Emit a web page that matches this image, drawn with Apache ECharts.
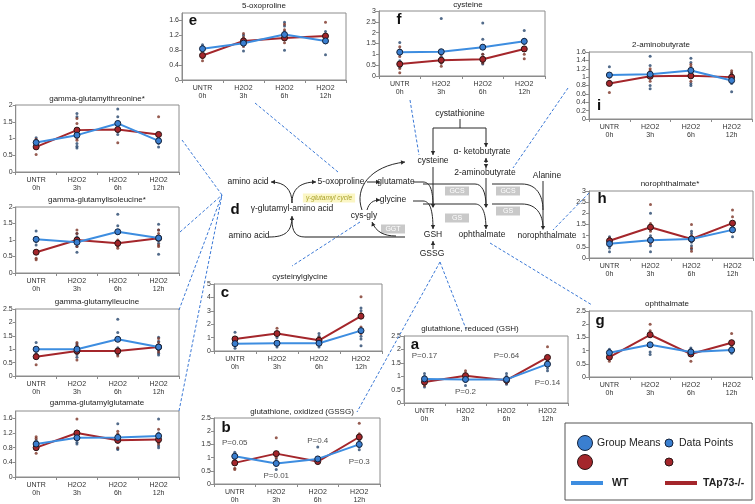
<!DOCTYPE html>
<html><head><meta charset="utf-8">
<script src="https://cdn.jsdelivr.net/npm/echarts@6/dist/echarts.min.js"></script>
<style>html,body{margin:0;padding:0;background:#fff}#c{width:755px;height:504px}</style>
</head><body><div id="c"></div>
<script>
const categories = ['UNTR\n0h','H2O2\n3h','H2O2\n6h','H2O2\n12h'];

const thrWT = [0.88,1.1,1.45,0.93], thrKO = [0.75,1.25,1.27,1.12];
const thrWTPts = [[1.02,0.95,0.9,0.85,0.8],[1.75,1.65,1.25,1.1,0.85,0.77,0.72],[1.88,1.65,1.45,1.35,1.2,1.12],[1.12,1.05,0.95,0.85,0.75]];
const thrKOPts = [[0.98,0.75,0.72,0.52],[1.6,1.45,1.28,1.0,0.95],[1.3,1.25,0.87],[1.65,1.1,1.05,0.95]];

const ileWT = [1.02,0.93,1.25,1.06], ileKO = [0.63,1.0,0.9,1.05];
const ileWTPts = [[1.27,1.0,0.95,0.85],[1.2,1.1,0.8,0.63],[1.78,1.43,1.2,0.95,0.85],[1.48,1.3,1.0,0.9,0.57]];
const ileKOPts = [[0.65,0.45,0.4],[1.3,1.2,0.9,0.8],[1.0,0.85,0.8,0.75],[1.3,1.2,0.85,0.8]];

const leuWT = [1.0,1.0,1.37,1.08], leuKO = [0.72,0.93,0.93,1.08];
const leuWTPts = [[1.25,1.0,0.85,0.75],[1.2,1.1,0.8,0.7],[2.12,1.62,1.05,0.95,0.85,0.8],[1.45,1.3,1.15,0.95,0.85,0.78]];
const leuKOPts = [[0.8,0.7,0.42],[1.25,1.15,0.85,0.6],[1.0,0.9,0.85,0.75],[1.4,1.25,1.0,0.9]];

const gluWT = [0.9,1.07,1.08,1.12], gluKO = [0.8,1.2,1.0,1.02];
const gluWTPts = [[1.0,0.95,0.9,0.85,0.75],[1.15,1.05,0.95,0.9],[1.45,1.15,1.05,0.95,0.78,0.75],[1.58,1.2,1.1,0.95,0.85,0.8]];
const gluKOPts = [[1.1,1.05,0.8,0.65],[1.58,1.25,1.2,1.1],[1.25,1.18,1.0,0.8],[1.3,1.05,0.95,0.9]];

const oxoWT = [0.84,0.99,1.22,1.05], oxoKO = [0.66,1.05,1.13,1.18];
const oxoWTPts = [[0.95,0.9,0.85,0.8],[1.2,1.1,1.0,0.78],[1.55,1.45,1.3,1.2,1.1,0.8],[1.3,1.2,1.1,1.0,0.68]];
const oxoKOPts = [[0.7,0.6,0.52],[1.25,1.15,1.05,0.9],[1.5,1.35,1.2,1.1,1.0],[1.55,1.2,1.1]];

const cysWT = [1.1,1.12,1.33,1.6], cysKO = [0.55,0.73,0.77,1.25];
const cysWTPts = [[1.55,1.2,1.1,1.0,0.7,0.4],[2.65,1.1,0.9,0.7,0.6],[2.45,1.7,1.0,0.75,0.6,0.55],[2.1,1.7,1.5,1.2]];
const cysKOPts = [[1.35,1.2,0.9,0.55,0.35,0.15],[1.0,0.75,0.6,0.45],[1.4,1.0,0.8,0.6],[1.6,1.3,1.0,0.8]];

const abuWT = [1.05,1.07,1.16,0.92], abuKO = [0.85,1.02,1.03,1.0];
const abuWTPts = [[1.25,1.05,0.9],[1.5,1.28,1.1,1.0,0.8,0.72],[1.45,1.35,1.2,1.05,0.85,0.8],[1.1,1.0,0.9,0.85,0.65]];
const abuKOPts = [[1.0,0.85,0.63],[1.2,1.15,1.1,1.0,0.9],[1.3,1.25,1.1,1.0,0.9],[1.15,1.1,1.05,0.95]];

const noroWT = [0.64,0.8,0.85,1.26], noroKO = [0.77,1.38,0.85,1.56];
const noroWTPts = [[0.95,0.9,0.8,0.55,0.45,0.28],[2.0,1.3,1.0,0.75,0.55,0.28],[1.2,1.1,0.9,0.7,0.55,0.4],[1.6,1.45,1.3,1.2,0.95]];
const noroKOPts = [[0.9,0.75,0.6],[2.4,1.55,1.45,1.2,0.85,0.65],[1.5,1.0,0.8,0.45,0.3],[2.15,1.85,1.6,1.45]];

const ophWT = [0.92,1.22,0.95,1.02], ophKO = [0.75,1.6,0.87,1.3];
const ophWTPts = [[1.05,1.0,0.95,0.85],[1.25,0.95,0.85],[1.1,1.05,0.95,0.9],[1.1,1.0,0.9]];
const ophKOPts = [[0.9,0.7,0.6],[2.0,1.75,1.65,1.55],[1.0,0.85,0.6],[1.65,1.35,1.25,1.15]];

const cgWT = [0.55,0.58,0.58,1.52], cgKO = [0.9,1.3,0.8,2.6];
const cgWTPts = [[1.4,0.8,0.5,0.2],[1.2,1.0,0.6,0.3],[1.3,1.1,0.8,0.6,0.3],[3.2,3.0,2.5,1.1,0.9,0.4]];
const cgKOPts = [[0.9,0.7],[1.7,1.4,1.2],[1.0,0.9,0.7],[4.05,2.8,2.65,1.8,1.5,1.3]];

const gssgWT = [1.05,0.78,0.95,1.5], gssgKO = [0.8,1.15,0.85,1.78];
const gssgWTPts = [[1.2,1.1,1.0,0.9,0.8],[0.95,0.85,0.7,0.55],[1.4,1.0,0.9,0.8],[1.65,1.55,1.4,1.3]];
const gssgKOPts = [[0.9,0.6,0.55],[1.75,1.2,1.1,1.0],[1.0,0.9,0.8],[2.3,1.9,1.8,1.7]];
const gssgPLabels = ['P=0.05','P=0.01','P=0.4','P=0.3'];
const gssgPPos = [1.55,0.3,1.65,0.85];

const gshWT = [0.9,0.88,0.88,1.45], gshKO = [0.78,1.02,0.85,1.7];
const gshWTPts = [[1.1,1.0,0.9,0.75,0.6],[1.05,0.9,0.8,0.65],[1.1,1.0,0.85,0.75,0.7],[1.7,1.5,1.3,1.2]];
const gshKOPts = [[0.9,0.75,0.65],[1.2,1.1,1.0,0.9],[0.95,0.85,0.75],[2.1,1.75,1.6,1.55]];
const gshPLabels = ['P=0.17','P=0.2','P=0.64','P=0.14'];
const gshPPos = [1.75,0.4,1.75,0.75];

const FONT = 'Liberation Sans, Arial, sans-serif';
const BLUE = '#3d8de0', RED = '#a4262b', BLUE_PT = '#27466d', RED_PT = '#7c3326';

const panels = [
  {title:'gamma-glutamylthreonine*', wt:thrWT, ko:thrKO, wp:thrWTPts, kp:thrKOPts, max:2, step:0.5, g:[15,105,164,67], t:[97,99]},
  {title:'gamma-glutamylisoleucine*', wt:ileWT, ko:ileKO, wp:ileWTPts, kp:ileKOPts, max:2, step:0.5, g:[15,207,164,66], t:[97,200]},
  {title:'gamma-glutamylleucine', wt:leuWT, ko:leuKO, wp:leuWTPts, kp:leuKOPts, max:2.5, step:0.5, g:[15,309,164,67], t:[97,302]},
  {title:'gamma-glutamylglutamate', wt:gluWT, ko:gluKO, wp:gluWTPts, kp:gluKOPts, max:1.8, step:0.4, hideMax:true, g:[15,411,164,66], t:[97,403]},
  {title:'5-oxoproline', letter:'e', wt:oxoWT, ko:oxoKO, wp:oxoWTPts, kp:oxoKOPts, max:1.8, step:0.4, hideMax:true, g:[182,13,164,67], t:[264,6], l:[193,21]},
  {title:'cysteine', letter:'f', wt:cysWT, ko:cysKO, wp:cysWTPts, kp:cysKOPts, max:3, step:0.5, g:[379,11,166,65], t:[468,5], l:[399,20]},
  {title:'2-aminobutyrate', letter:'i', wt:abuWT, ko:abuKO, wp:abuWTPts, kp:abuKOPts, max:1.6, step:0.2, g:[589,52,163,67], t:[661,45], l:[599,106]},
  {title:'norophthalmate*', letter:'h', wt:noroWT, ko:noroKO, wp:noroWTPts, kp:noroKOPts, max:3, step:0.5, g:[589,191,164,67], t:[670,184], l:[602,199]},
  {title:'ophthalmate', letter:'g', wt:ophWT, ko:ophKO, wp:ophWTPts, kp:ophKOPts, max:2.5, step:0.5, g:[589,311,163,66], t:[667,304], l:[600,321]},
  {title:'cysteinylglycine', letter:'c', wt:cgWT, ko:cgKO, wp:cgWTPts, kp:cgKOPts, max:5, step:1, g:[214,284,168,67], t:[300,277], l:[225,293]},
  {title:'glutathione, oxidized (GSSG)', letter:'b', wt:gssgWT, ko:gssgKO, wp:gssgWTPts, kp:gssgKOPts, max:2.5, step:0.5, g:[214,418,166,67], t:[302,412], l:[226,428], pl:gssgPLabels, pp:gssgPPos},
  {title:'glutathione, reduced (GSH)', letter:'a', wt:gshWT, ko:gshKO, wp:gshWTPts, kp:gshKOPts, max:2.5, step:0.5, g:[404,336,164,67], t:[470,329], l:[415,345], pl:gshPLabels, pp:gshPPos}
];

const grid = [], xAxis = [], yAxis = [], series = [], G = [];
function txt(x, y, s, o) {
  o = o || {};
  G.push({type:'text', x:x, y:y, z:20, style:{text:s, fill:o.fill||'#222', fontSize:o.size||8.5, fontFamily:FONT,
    fontWeight:o.weight||'normal', fontStyle:o.italic?'italic':'normal',
    textAlign:o.align||'center', textVerticalAlign:'middle', align:o.align||'center', verticalAlign:'middle',
    backgroundColor:o.bg, padding:o.pad}});
}
panels.forEach(function(p, i) {
  grid.push({left:p.g[0], top:p.g[1], width:p.g[2], height:p.g[3], show:true, borderColor:'#8c8c8c', borderWidth:1, backgroundColor:'#fff'});
  xAxis.push({gridIndex:i, type:'category', data:categories,
    axisLine:{lineStyle:{color:'#8c8c8c'}}, axisTick:{show:true, length:3, lineStyle:{color:'#8c8c8c'}},
    axisLabel:{fontSize:7, color:'#333', fontFamily:FONT, lineHeight:8, margin:4, interval:0}});
  yAxis.push({gridIndex:i, type:'value', min:0, max:p.max, interval:p.step, splitLine:{show:false},
    axisLine:{show:true, lineStyle:{color:'#8c8c8c'}}, axisTick:{show:true, length:3, lineStyle:{color:'#8c8c8c'}},
    axisLabel:{fontSize:7, color:'#333', fontFamily:FONT, margin:3, showMaxLabel:!p.hideMax}});
  const flat = function(arr){ const out=[]; arr.forEach(function(v,ci){ v.forEach(function(y){ out.push([ci,y]); }); }); return out; };
  series.push({type:'scatter', xAxisIndex:i, yAxisIndex:i, data:flat(p.wp), symbolSize:3, itemStyle:{color:BLUE_PT}, z:2, silent:true});
  series.push({type:'scatter', xAxisIndex:i, yAxisIndex:i, data:flat(p.kp), symbolSize:3, itemStyle:{color:RED_PT}, z:2, silent:true});
  series.push({type:'line', xAxisIndex:i, yAxisIndex:i, data:p.ko, symbol:'circle', symbolSize:6, lineStyle:{color:RED, width:2},
    itemStyle:{color:RED, borderColor:'#2b1414', borderWidth:1}, z:3, silent:true});
  series.push({type:'line', xAxisIndex:i, yAxisIndex:i, data:p.wt, symbol:'circle', symbolSize:6, lineStyle:{color:BLUE, width:2},
    itemStyle:{color:'#3a7fd0', borderColor:'#14233c', borderWidth:1}, z:4, silent:true});
  if (p.pl) {
    series.push({type:'scatter', xAxisIndex:i, yAxisIndex:i, data:p.pp.map(function(v,ci){return [ci,v];}), symbolSize:1,
      itemStyle:{color:'rgba(0,0,0,0)'}, z:5, silent:true,
      label:{show:true, position:'inside', fontSize:8, color:'#222', fontFamily:FONT, formatter:function(d){return p.pl[d.dataIndex];}}});
  }
  txt(p.t[0], p.t[1], p.title, {size:8});
  if (p.letter) txt(p.l[0], p.l[1], p.letter, {size:15, weight:'bold', fill:'#111'});
});

const K = '#2a2a2a';
function line(x1,y1,x2,y2,o){ o=o||{}; G.push({type:'line', z:15, shape:{x1:x1,y1:y1,x2:x2,y2:y2}, style:{stroke:o.c||K, lineWidth:o.w||1, lineDash:o.dash||null}}); }
function head(x,y,dx,dy){ const L=Math.hypot(dx,dy), ux=dx/L, uy=dy/L, s=4, h=2.2;
  G.push({type:'polygon', z:16, shape:{points:[[x,y],[x-ux*s-uy*h, y-uy*s+ux*h],[x-ux*s+uy*h, y-uy*s-ux*h]]}, style:{fill:K}}); }
function arrow(x1,y1,x2,y2){ line(x1,y1,x2,y2); head(x2,y2,x2-x1,y2-y1); }
function curve(x1,y1,cx1,cy1,cx2,cy2,x2,y2,withHead,o){ o=o||{};
  G.push({type:'bezierCurve', z:15, shape:{x1:x1,y1:y1,x2:x2,y2:y2,cpx1:cx1,cpy1:cy1,cpx2:cx2,cpy2:cy2}, style:{stroke:o.c||K, lineWidth:o.w||1, fill:null}});
  if (withHead) head(x2,y2,x2-cx2,y2-cy2); }
function box(cx,cy,s){ G.push({type:'rect', z:14, shape:{x:cx-12,y:cy-4.5,width:24,height:9}, style:{fill:'#c9c9c9'}}); txt(cx,cy,s,{size:7,fill:'#fff'}); }

txt(460,114,'cystathionine');
line(460,119,460,128); line(433,128,486,128);
arrow(433,128,433,155); arrow(486,128,486,147);
txt(482,152,'\u03b1- ketobutyrate');
txt(433,161,'cysteine');
arrow(486,165,486,168); arrow(486,163,486,158);
txt(485,173,'2-aminobutyrate');
txt(547,176,'Alanine');
txt(248,182,'amino acid');
txt(341,182,'5-oxoproline');
arrow(367,182,380,182);
txt(396,182,'glutamate');
txt(329,198,'\u03b3-glutamyl cycle',{size:6.5,italic:true,fill:'#a8a028',bg:'#fbf6c4',pad:[1,3]});
txt(393,200,'glycine');
txt(235,210,'d',{size:15,weight:'bold',fill:'#111'});
txt(292,209,'\u03b3-glutamyl-amino acid');
txt(364,216,'cys-gly');
txt(249,236,'amino acid');
txt(433,235,'GSH');
txt(482,235,'ophthalmate');
txt(547,236,'norophthalmate');
txt(432,254,'GSSG');

curve(292,203,292,190,285,182,271,182,true);
curve(292,203,292,190,299,182,316,182,true);
curve(269,237,285,237,292,232,292,216,true);
line(305,237,405,237,{c:'#666',w:1.5});
curve(305,237,296,237,292,232,292,220,false);
curve(396,236,384,236,376,232,372,222,true);
curve(362,210,354,188,370,166,405,162,true);
curve(367,210,369,203,373,200,380,200,true);
line(433,167,433,207); head(433,208,0,1);
line(413,182,423,182); curve(423,182,430,182,433,190,433,206,false);
line(413,201,423,201); curve(423,201,430,201,433,210,433,229,true);
line(423,184,475,184); curve(475,184,482,184,486,192,486,206,false);
line(486,178,486,207); head(486,208,0,1);
line(423,204,475,204); curve(475,204,482,204,486,212,486,229,true);
box(457,191,'GCS'); box(457,218,'GS'); box(508,191,'GCS'); box(508,211,'GS'); box(393,229,'GGT');
line(492,184,522,184); curve(522,184,536,184,543,195,543,210,false);
line(543,181,543,228); head(543,230,0,1);
line(492,204,522,204); curve(522,204,536,204,543,214,543,228,false);
arrow(433,249,433,241);

const DB = '#3a78d6';
[[182,140,222,195],[180,232,222,195],[179,310,222,195],[179,411,222,195],
 [255,103,338,172],[410,100,419,155],[568,88,513,168],[589,193,553,230],
 [490,243,592,305],[440,262,466,329],[360,222,292,266],[440,262,357,412]].forEach(function(s){
  G.push({type:'line', z:12, shape:{x1:s[0],y1:s[1],x2:s[2],y2:s[3]}, style:{stroke:DB, lineWidth:1, lineDash:[3,2]}});
});

G.push({type:'rect', z:20, shape:{x:565,y:423,width:187,height:77}, style:{fill:'#fff', stroke:'#555', lineWidth:1}});
function dot(cx,cy,r,f,s){ G.push({type:'circle', z:21, shape:{cx:cx,cy:cy,r:r}, style:{fill:f, stroke:s, lineWidth:1}}); }
dot(585,443,7.5,'#3a7fd0','#14233c'); txt(597,443,'Group Means',{size:10.5,align:'left'});
dot(669,443,4,'#3a7fd0','#14233c'); txt(679,443,'Data Points',{size:10.5,align:'left'});
dot(585,462,7.5,RED,'#2b1414'); dot(669,462,4,RED,'#2b1414');
G.push({type:'line', z:21, shape:{x1:571,y1:483,x2:603,y2:483}, style:{stroke:BLUE, lineWidth:4}});
txt(612,483,'WT',{size:10.5,weight:'bold',align:'left'});
G.push({type:'line', z:21, shape:{x1:665,y1:483,x2:697,y2:483}, style:{stroke:RED, lineWidth:4}});
txt(703,483,'TAp73-/-',{size:10.5,weight:'bold',align:'left'});

const chart = echarts.init(document.getElementById('c'));
chart.setOption({animation:false, backgroundColor:'#fff', grid:grid, xAxis:xAxis, yAxis:yAxis, series:series, graphic:{elements:G}});
</script></body></html>
